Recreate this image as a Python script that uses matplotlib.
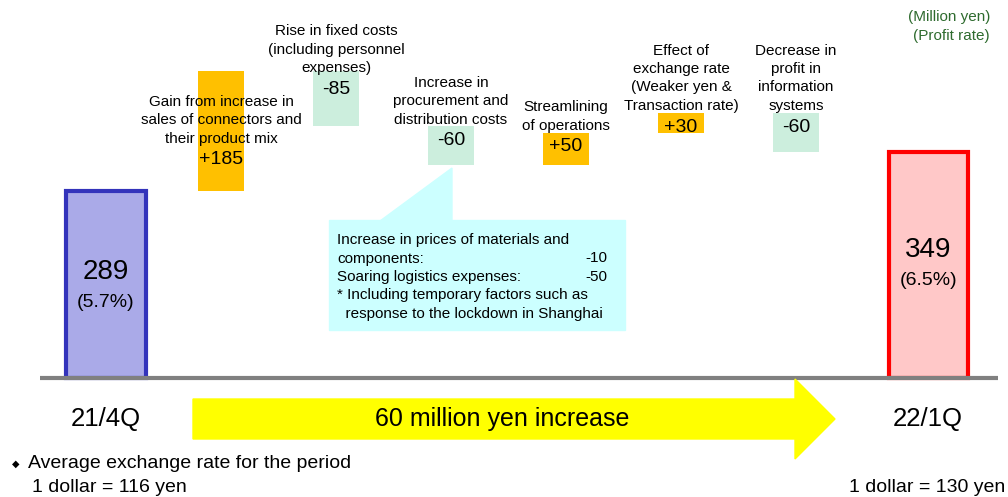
import matplotlib.pyplot as plt
from matplotlib.patches import Polygon, Rectangle
import numpy as np

plt.rcParams['font.family'] = ['Liberation Sans', 'DejaVu Sans']

# data (million yen)
end_labels = ['21/4Q', '22/1Q']
end_values = [289, 349]
end_rates = ['(5.7%)', '(6.5%)']

factor_labels = [
    'Gain from increase in\nsales of connectors and\ntheir product mix',
    'Rise in fixed costs\n(including personnel\nexpenses)',
    'Increase in\nprocurement and\ndistribution costs',
    'Streamlining\nof operations',
    'Effect of\nexchange rate\n(Weaker yen &\nTransaction rate)',
    'Decrease in\nprofit in\ninformation\nsystems',
]
factor_values = [185, -85, -60, 50, 30, -60]

detail_lines = [
    ('Increase in prices of materials and', ''),
    ('components:', '-10'),
    ('Soaring logistics expenses:', '-50'),
    ('* Including temporary factors such as', ''),
    ('  response to the lockdown in Shanghai', ''),
]
rate_left = '1 dollar = 116 yen'
rate_right = '1 dollar = 130 yen'

# layout
W, H = 1008, 497
k = 0.6476          # pixels per million yen
base_px = 119       # baseline height from bottom
step = 115          # pixels per slot
x0 = 106            # pixel of first bar centre
label_drop = [137, 28, 23, 22, 21.5, 21.5]

fig = plt.figure(figsize=(W / 100, H / 100), dpi=100)
ax = fig.add_axes([0, 0, 1, 1])
ax.set_xlim(-x0 / step, (W - x0) / step)
ax.set_ylim(-base_px / k, (H - base_px) / k)
ax.axis('off')


def fx(px):
    return px / W


def fy(py):
    return 1 - py / H


# end bars
end_x = [0, 7.15]
end_fill = ['#AAAAE8', '#FFC8C8']
end_edge = ['#3333BB', '#FF0000']
for x, v, r, fc, ec in zip(end_x, end_values, end_rates, end_fill, end_edge):
    ax.bar(x, v, width=0.69, color=fc, edgecolor=ec, linewidth=3, zorder=2)
    ax.text(x, v * 0.565, str(v), ha='center', va='center', fontsize=20)
    ax.text(x, v * 0.565 - 46, r, ha='center', va='center', fontsize=14)

# floating factor boxes
cum = end_values[0]
for i, (lab, v) in enumerate(zip(factor_labels, factor_values)):
    x = i + 1
    new = cum + v
    color = '#FFC000' if v > 0 else '#CCEEDD'
    ax.bar(x, abs(v), bottom=min(cum, new), width=0.4, color=color, zorder=2)
    top = max(cum, new)
    ly = top - label_drop[i]
    ax.text(x, ly, f'{v:+d}', ha='center', va='center', fontsize=14, zorder=4)
    ax.text(x, ly + 22, lab, ha='center', va='bottom', fontsize=11,
            linespacing=1.4, zorder=4)
    cum = new

# baseline
ax.plot([(40 - x0) / step, (998 - x0) / step], [0, 0], color='#808080',
        lw=3, zorder=3, solid_capstyle='butt')

# callout for procurement costs
fig.patches.append(Rectangle((fx(329), fy(330)), fx(625) - fx(329), fy(220) - fy(330),
                             transform=fig.transFigure, color='#CCFFFF', zorder=1))
fig.patches.append(Polygon([(fx(452), fy(168)), (fx(380), fy(221)), (fx(452), fy(221))],
                           closed=True, transform=fig.transFigure, color='#CCFFFF', zorder=1))
for j, (t, n) in enumerate(detail_lines):
    y = fy(240 + 18.5 * j)
    fig.text(fx(337), y, t, ha='left', va='center', fontsize=11)
    if n:
        fig.text(fx(607), y, n, ha='right', va='center', fontsize=11)

# yellow arrow
arrow = [(193, 399), (795, 399), (795, 379), (835, 419), (795, 459), (795, 439), (193, 439)]
fig.patches.append(Polygon([(fx(a), fy(b)) for a, b in arrow], closed=True,
                           transform=fig.transFigure, color='#FFFF00', zorder=1))
fig.text(fx(502), fy(419), '60 million yen increase', ha='center', va='center', fontsize=18)
for x, lab in zip(end_x, end_labels):
    fig.text(fx(x0 + step * x), fy(419), lab, ha='center', va='center', fontsize=18.5)

# units
fig.text(fx(990), fy(17), '(Million yen)', ha='right', va='center', fontsize=11, color='#2E6B2E')
fig.text(fx(990), fy(36), '(Profit rate)', ha='right', va='center', fontsize=11, color='#2E6B2E')

# exchange rates
fig.text(fx(12), fy(464), '\u25c6', ha='left', va='center', fontsize=7, family='DejaVu Sans')
fig.text(fx(28), fy(464), 'Average exchange rate for the period', ha='left', va='center', fontsize=14)
fig.text(fx(32), fy(487), rate_left, ha='left', va='center', fontsize=14)
fig.text(fx(1005), fy(487), rate_right, ha='right', va='center', fontsize=14)

fig.savefig('out.png', dpi=100)
